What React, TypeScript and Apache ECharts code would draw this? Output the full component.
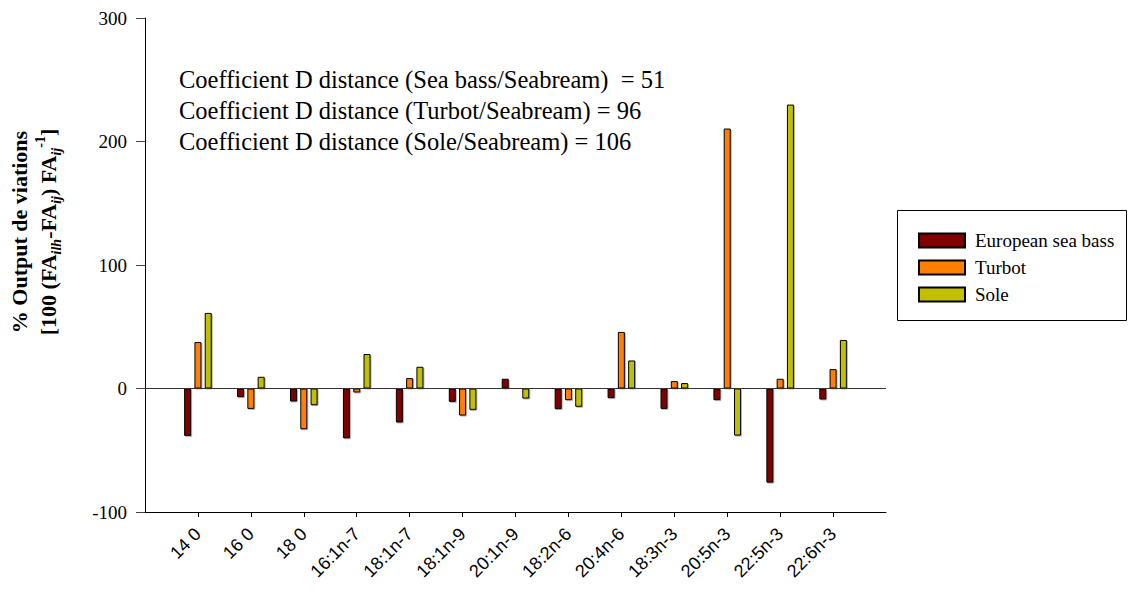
import React, { useEffect, useRef } from "react";
import * as echarts from "echarts";

const categories = ["14 0", "16 0", "18 0", "16:1n-7", "18:1n-7", "18:1n-9", "20:1n-9", "18:2n-6", "20:4n-6", "18:3n-3", "20:5n-3", "22:5n-3", "22:6n-3"];
const seaBass = [-38.4, -7, -10.5, -40.3, -27.5, -10.8, 7.9, -16.7, -7.8, -16.5, -9.4, -76.2, -8.9];
const turbot = [37.6, -16.5, -33, -3.2, 8.4, -21.9, 0.5, -9.4, 45.8, 6, 210.5, 7.9, 15.7];
const sole = [61.2, 9.5, -13.5, 27.9, 17.6, -17.3, -8.1, -14.8, 22.7, 4.4, -38.1, 229.9, 39.3];
const seriesNames = ["European sea bass", "Turbot", "Sole"];
const seriesColors = ["#800000", "#FF8000", "#C0C000"];
const yTicks = { min: -100, max: 300, interval: 100 };
const notes = [
  "Coefficient D distance (Sea bass/Seabream)  = 51",
  "Coefficient D distance (Turbot/Seabream) = 96",
  "Coefficient D distance (Sole/Seabream) = 106",
];

const pad = (arr: (number | null)[]) => [null, ...arr, null];

export default function App() {
  const ref = useRef<HTMLDivElement>(null);
  useEffect(() => {
    if (!ref.current) return;
    const chart = echarts.init(ref.current, undefined, { renderer: "svg" });
    const serif = "'Liberation Serif', 'Times New Roman', serif";
    const sans = "'Liberation Sans', Arial, sans-serif";
    const data = [seaBass, turbot, sole];
    const cats = ["", ...categories, ""];
    const option: any = {
      animation: false,
      backgroundColor: "#ffffff",
      grid: { left: 145, right: 242, top: 18, bottom: 85, containLabel: false },
      legend: {
        orient: "vertical",
        left: 913,
        top: 226,
        itemWidth: 46,
        itemHeight: 14,
        itemGap: 8,
        icon: "rect",
        textStyle: { fontFamily: serif, fontSize: 19, color: "#000", padding: [0, 0, 0, 5] },
        data: seriesNames,
      },
      xAxis: {
        type: "category",
        data: cats,
        boundaryGap: false,
        axisLine: { onZero: false, lineStyle: { color: "#000", width: 1 } },
        axisTick: {
          show: true,
          length: 5,
          interval: (i: number) => i > 0 && i < cats.length - 1,
          lineStyle: { color: "#000" },
        },
        axisLabel: {
          interval: 0,
          rotate: 45,
          margin: 19,
          fontFamily: sans,
          fontSize: 18,
          color: "#000",
        },
        splitLine: { show: false },
      },
      yAxis: {
        type: "value",
        min: yTicks.min,
        max: yTicks.max,
        interval: yTicks.interval,
        axisLine: { show: true, lineStyle: { color: "#000", width: 1 } },
        axisTick: { show: true, length: 9, lineStyle: { color: "#444" } },
        axisLabel: { fontFamily: serif, fontSize: 19, color: "#000", margin: 18 },
        splitLine: { show: false },
      },
      series: data.map((d, i) => ({
        name: seriesNames[i],
        type: "bar",
        data: pad(d),
        barWidth: 7,
        barGap: "47%",
        itemStyle: {
          color: seriesColors[i],
          borderColor: "#000",
          borderWidth: 1,
          shadowColor: "rgba(0,0,0,0.3)",
          shadowBlur: 1,
          shadowOffsetX: 1,
          shadowOffsetY: 1,
        },
        markLine:
          i === 0
            ? {
                silent: true,
                symbol: ["none", "none"],
                label: { show: false },
                lineStyle: { color: "#333", width: 1, type: "solid" },
                data: [{ yAxis: 0 }],
              }
            : undefined,
      })),
      graphic: [
        ...notes.map((t, i) => ({
          type: "text",
          left: 179,
          top: 67 + i * 31,
          style: { text: t, fontFamily: serif, fontSize: 24.5, fill: "#000" },
        })),
        {
          type: "rect",
          shape: { x: 897.5, y: 210.5, width: 229, height: 110 },
          style: { fill: "none", stroke: "#000", lineWidth: 1 },
          z: -1,
        },
        {
          type: "text",
          x: 19,
          y: 232,
          rotation: Math.PI / 2,
          style: {
            text: "% Output de viations",
            fontFamily: serif,
            fontSize: 22,
            fontWeight: "bold",
            fill: "#000",
            align: "center",
            verticalAlign: "middle",
          },
        },
        {
          type: "text",
          x: 48,
          y: 232,
          rotation: Math.PI / 2,
          style: {
            text: "[100 (FA{s|ilh}-FA{s|ij}) FA{s|ij}{p|-1}]",
            fontFamily: serif,
            fontSize: 22,
            fontWeight: "bold",
            fill: "#000",
            align: "center",
            verticalAlign: "middle",
            lineHeight: 30,
            rich: {
              s: { fontFamily: serif, fontSize: 14, fontWeight: "bold", fontStyle: "italic", verticalAlign: "bottom", lineHeight: 14 },
              p: { fontFamily: serif, fontSize: 14, fontWeight: "bold", verticalAlign: "top", lineHeight: 14 },
            },
          },
        },
      ],
    };
    chart.setOption(option);
    return () => chart.dispose();
  }, []);
  return <div ref={ref} style={{ position: "absolute", left: 0, top: 0, width: 1128, height: 597 }} />;
}
